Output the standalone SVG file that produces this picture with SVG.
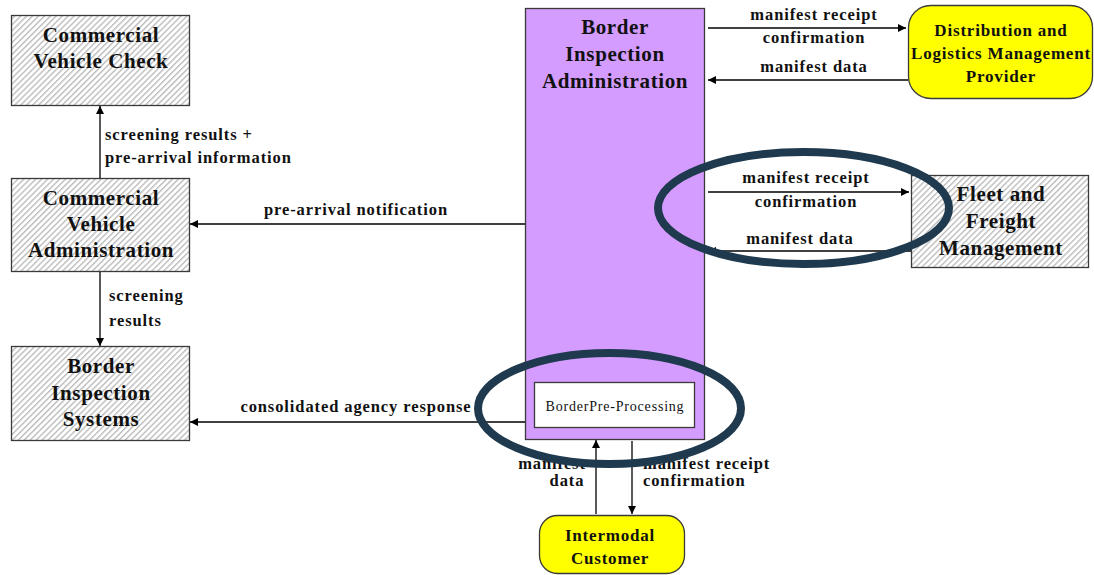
<svg xmlns="http://www.w3.org/2000/svg" width="1094" height="575" viewBox="0 0 1094 575">
<defs>
<pattern id="hatch" width="4.2" height="4.2" patternUnits="userSpaceOnUse" patternTransform="rotate(45)">
<rect width="4.2" height="4.2" fill="#ffffff"/>
<rect x="0" y="0" width="1.4" height="4.2" fill="#bdbdbd"/>
</pattern>
<marker id="ah" viewBox="0 0 10 10" refX="10" refY="5" markerWidth="8" markerHeight="8" markerUnits="userSpaceOnUse" orient="auto">
<path d="M0,0 L10,5 L0,10 z" fill="#000"/>
</marker>
<style>
.hb{fill:url(#hatch);stroke:#3a3a3a;stroke-width:1.3}
.yb{fill:#ffff00;stroke:#3a3a3a;stroke-width:1.3}
.t{font-family:"Liberation Serif","Times New Roman",serif;font-weight:bold;font-size:21px;letter-spacing:0.6px;fill:#111;text-anchor:middle}
.ty{font-family:"Liberation Serif","Times New Roman",serif;font-weight:bold;font-size:17px;letter-spacing:0.8px;fill:#111;text-anchor:middle}
.l{font-family:"Liberation Serif","Times New Roman",serif;font-weight:bold;font-size:16.5px;letter-spacing:0.9px;fill:#111}
.c{stroke:#000;stroke-width:1.3;fill:none;marker-end:url(#ah)}
.ring{fill:none;stroke:#1f3a4e;stroke-width:8}
</style>
</defs>
<rect width="1094" height="575" fill="#ffffff"/>

<g id="bia">
<rect x="525.5" y="8.5" width="179" height="431" fill="#d49cff" stroke="#3a3a3a" stroke-width="1.3"/>
<text class="t" x="615" y="34">Border</text>
<text class="t" x="615" y="61">Inspection</text>
<text class="t" x="615" y="88">Administration</text>
</g>
<g id="bpp">
<rect x="534.5" y="382.5" width="160" height="45" fill="#ffffff" stroke="#3a3a3a" stroke-width="1.3"/>
<text x="615" y="411" text-anchor="middle" font-family="Liberation Serif, Times New Roman, serif" font-size="14" letter-spacing="0.8" fill="#111">BorderPre-Processing</text>
</g>

<g id="cvc">
<rect class="hb" x="11.5" y="15.5" width="178" height="90"/>
<text class="t" x="101" y="42">Commercial</text>
<text class="t" x="101" y="68">Vehicle Check</text>
</g>
<g id="cva">
<rect class="hb" x="11.5" y="178.5" width="178" height="93"/>
<text class="t" x="101" y="205">Commercial</text>
<text class="t" x="101" y="231">Vehicle</text>
<text class="t" x="101" y="257">Administration</text>
</g>
<g id="bis">
<rect class="hb" x="11.5" y="346.5" width="178" height="94"/>
<text class="t" x="101" y="373">Border</text>
<text class="t" x="101" y="400">Inspection</text>
<text class="t" x="101" y="426">Systems</text>
</g>
<g id="dlmp">
<rect class="yb" x="908.5" y="5.5" width="184" height="93" rx="22" ry="22"/>
<text class="ty" x="1001" y="36">Distribution and</text>
<text class="ty" x="1001" y="59">Logistics Management</text>
<text class="ty" x="1001" y="82">Provider</text>
</g>
<g id="ffm">
<rect class="hb" x="911.5" y="175.5" width="177" height="92"/>
<text class="t" x="1001" y="201">Fleet and</text>
<text class="t" x="1001" y="228">Freight</text>
<text class="t" x="1001" y="255">Management</text>
</g>
<g id="ic">
<rect class="yb" x="539.5" y="515.5" width="145" height="58" rx="18" ry="18"/>
<text class="ty" x="610" y="541">Intermodal</text>
<text class="ty" x="610" y="564">Customer</text>
</g>

<g id="connectors">
<line class="c" x1="100" y1="178" x2="100" y2="106"/>
<line class="c" x1="100" y1="272" x2="100" y2="346"/>
<line class="c" x1="525" y1="224" x2="190" y2="224"/>
<line class="c" x1="525" y1="422" x2="190" y2="422"/>
<line class="c" x1="708" y1="28" x2="906" y2="28"/>
<line class="c" x1="908" y1="80" x2="708" y2="80"/>
<line class="c" x1="708" y1="192" x2="909" y2="192"/>
<line class="c" x1="911" y1="251" x2="708" y2="251"/>
<line class="c" x1="596" y1="514" x2="596" y2="440"/>
<line class="c" x1="632" y1="441" x2="632" y2="514"/>

<text class="l" x="105" y="140">screening results +</text>
<text class="l" x="105" y="163">pre-arrival information</text>
<text class="l" x="109" y="301">screening</text>
<text class="l" x="109" y="326">results</text>
<text class="l" x="356" y="215" text-anchor="middle">pre-arrival notification</text>
<text class="l" x="356" y="412" text-anchor="middle">consolidated agency response</text>
<text class="l" x="814" y="20" text-anchor="middle">manifest receipt</text>
<text class="l" x="814" y="43" text-anchor="middle">confirmation</text>
<text class="l" x="814" y="72" text-anchor="middle">manifest data</text>
<text class="l" x="806" y="183" text-anchor="middle">manifest receipt</text>
<text class="l" x="806" y="207" text-anchor="middle">confirmation</text>
<text class="l" x="800" y="244" text-anchor="middle">manifest data</text>
<text class="l" x="552" y="469" text-anchor="middle">manifest</text>
<text class="l" x="567" y="486" text-anchor="middle">data</text>
<text class="l" x="643" y="469">manifest receipt</text>
<text class="l" x="643" y="486">confirmation</text>
</g>

<ellipse class="ring" cx="609.5" cy="408.5" rx="131.5" ry="55.5"/>
<ellipse class="ring" cx="803.5" cy="208" rx="145.5" ry="56"/>
</svg>
